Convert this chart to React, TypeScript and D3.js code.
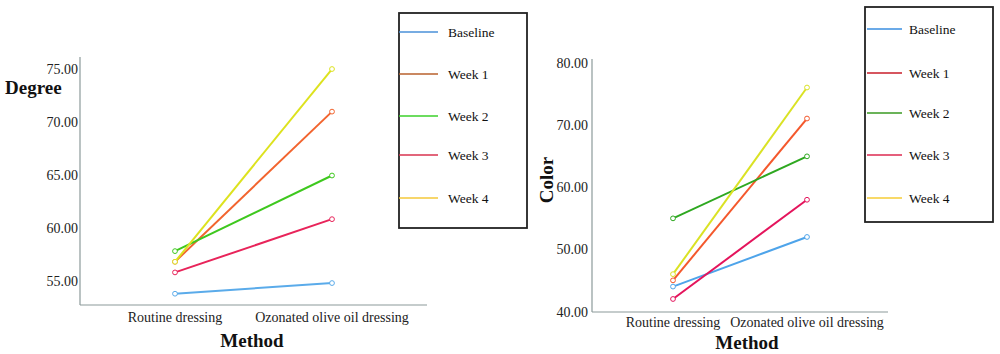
import React from "react";
import * as d3 from "d3";

const categories = ["Routine dressing", "Ozonated olive oil dressing"];
const seriesNames = ["Baseline", "Week 1", "Week 2", "Week 3", "Week 4"];

const degreeBaseline = [53.9, 54.9];
const degreeWeek1 = [56.9, 71.0];
const degreeWeek2 = [57.9, 65.0];
const degreeWeek3 = [55.9, 60.9];
const degreeWeek4 = [56.9, 75.0];
const degreeTicks = [55, 60, 65, 70, 75];

const colorBaseline = [44.1, 52.1];
const colorWeek1 = [45.1, 71.2];
const colorWeek2 = [55.1, 65.1];
const colorWeek3 = [42.1, 58.1];
const colorWeek4 = [46.1, 76.2];
const colorTicks = [40, 50, 60, 70, 80];

const leftLineColors = ["#5aabea", "#f2642e", "#3ec81e", "#e8245a", "#dde21e"];
const leftLegendColors = ["#4a90d9", "#b8602c", "#3bd02a", "#d8334f", "#f4c93a"];
const rightLineColors = ["#4ea4ea", "#f4582c", "#2ea820", "#e4145c", "#dae224"];
const rightLegendColors = ["#3a8ee0", "#c81e2a", "#3a9a22", "#dc2a50", "#f6cc36"];

const FONT = "'Liberation Serif', 'Times New Roman', serif";

type PanelProps = {
  series: number[][];
  ticks: number[];
  yDomain: [number, number];
  yRange: [number, number];
  xRange: [number, number];
  axisX: [number, number];
  lineColors: string[];
  legendColors: string[];
  legendBox: { x: number; y: number; w: number; h: number };
  legendLineX: [number, number];
  legendTextX: number;
  legendYs: number[];
  yLabel: string;
  yLabelPos: { x: number; y: number; rotate: boolean };
  xLabelY: number;
  xTitle: { x: number; y: number };
  tickRight: number;
};

function Panel(p: PanelProps) {
  const y = d3.scaleLinear().domain(p.yDomain).range(p.yRange);
  const x = d3.scalePoint<string>().domain(categories).range(p.xRange).padding(0);
  const line = d3
    .line<number>()
    .x((_, i) => x(categories[i]) as number)
    .y((d) => y(d));
  const axisColor = "#8c9a9a";
  return (
    <g>
      <line x1={p.axisX[0]} x2={p.axisX[0]} y1={p.yRange[1]} y2={p.yRange[0]} stroke={axisColor} strokeWidth={1.2} />
      <line x1={p.axisX[0]} x2={p.axisX[1]} y1={p.yRange[0]} y2={p.yRange[0]} stroke={axisColor} strokeWidth={1.2} />
      {p.ticks.map((t) => (
        <text key={t} x={p.tickRight} y={y(t)} textAnchor="end" dominantBaseline="central" fontFamily={FONT} fontSize={14} fill="#222">
          {t.toFixed(2)}
        </text>
      ))}
      {categories.map((c) => (
        <text key={c} x={x(c)} y={p.xLabelY} textAnchor="middle" dominantBaseline="central" fontFamily={FONT} fontSize={14} fill="#222">
          {c}
        </text>
      ))}
      <text x={p.xTitle.x} y={p.xTitle.y} textAnchor="middle" dominantBaseline="central" fontFamily={FONT} fontSize={19} fontWeight="bold" fill="#111">
        Method
      </text>
      {p.yLabelPos.rotate ? (
        <text transform={`translate(${p.yLabelPos.x},${p.yLabelPos.y}) rotate(-90)`} textAnchor="middle" dominantBaseline="central" fontFamily={FONT} fontSize={19} fontWeight="bold" fill="#111">
          {p.yLabel}
        </text>
      ) : (
        <text x={p.yLabelPos.x} y={p.yLabelPos.y} dominantBaseline="central" fontFamily={FONT} fontSize={19} fontWeight="bold" fill="#111">
          {p.yLabel}
        </text>
      )}
      {p.series.map((s, i) => (
        <g key={i}>
          <path d={line(s) || ""} fill="none" stroke={p.lineColors[i]} strokeWidth={2} />
          {s.map((v, j) => (
            <circle key={j} cx={x(categories[j])} cy={y(v)} r={2.4} fill="white" stroke={p.lineColors[i]} strokeWidth={1} />
          ))}
        </g>
      ))}
      <rect x={p.legendBox.x} y={p.legendBox.y} width={p.legendBox.w} height={p.legendBox.h} fill="white" stroke="#222" strokeWidth={1.8} />
      {seriesNames.map((n, i) => (
        <g key={n}>
          <line x1={p.legendLineX[0]} x2={p.legendLineX[1]} y1={p.legendYs[i]} y2={p.legendYs[i]} stroke={p.legendColors[i]} strokeWidth={1.6} />
          <text x={p.legendTextX} y={p.legendYs[i]} dominantBaseline="central" fontFamily={FONT} fontSize={13.5} fill="#111">
            {n}
          </text>
        </g>
      ))}
    </g>
  );
}

export default function App() {
  return (
    <svg width={1000} height={354} style={{ position: "absolute", left: 0, top: 0, background: "white" }}>
      <rect width={1000} height={354} fill="white" />
      <Panel
        series={[degreeBaseline, degreeWeek1, degreeWeek2, degreeWeek3, degreeWeek4]}
        ticks={degreeTicks}
        yDomain={[52.84, 76.13]}
        yRange={[305, 57]}
        xRange={[175, 332]}
        axisX={[80, 427]}
        lineColors={leftLineColors}
        legendColors={leftLegendColors}
        legendBox={{ x: 399, y: 13, w: 128, h: 215 }}
        legendLineX={[399, 438]}
        legendTextX={448}
        legendYs={[32, 74, 116, 155, 198]}
        yLabel="Degree"
        yLabelPos={{ x: 5, y: 87, rotate: false }}
        xLabelY={317}
        xTitle={{ x: 252, y: 340 }}
        tickRight={78}
      />
      <Panel
        series={[colorBaseline, colorWeek1, colorWeek2, colorWeek3, colorWeek4]}
        ticks={colorTicks}
        yDomain={[40, 80.8]}
        yRange={[312, 59]}
        xRange={[673, 807]}
        axisX={[592, 888]}
        lineColors={rightLineColors}
        legendColors={rightLegendColors}
        legendBox={{ x: 865, y: 7, w: 128, h: 215 }}
        legendLineX={[867, 902]}
        legendTextX={909}
        legendYs={[29, 73, 113, 155, 198]}
        yLabel="Color"
        yLabelPos={{ x: 546, y: 180, rotate: true }}
        xLabelY={322}
        xTitle={{ x: 747, y: 342 }}
        tickRight={588}
      />
    </svg>
  );
}
